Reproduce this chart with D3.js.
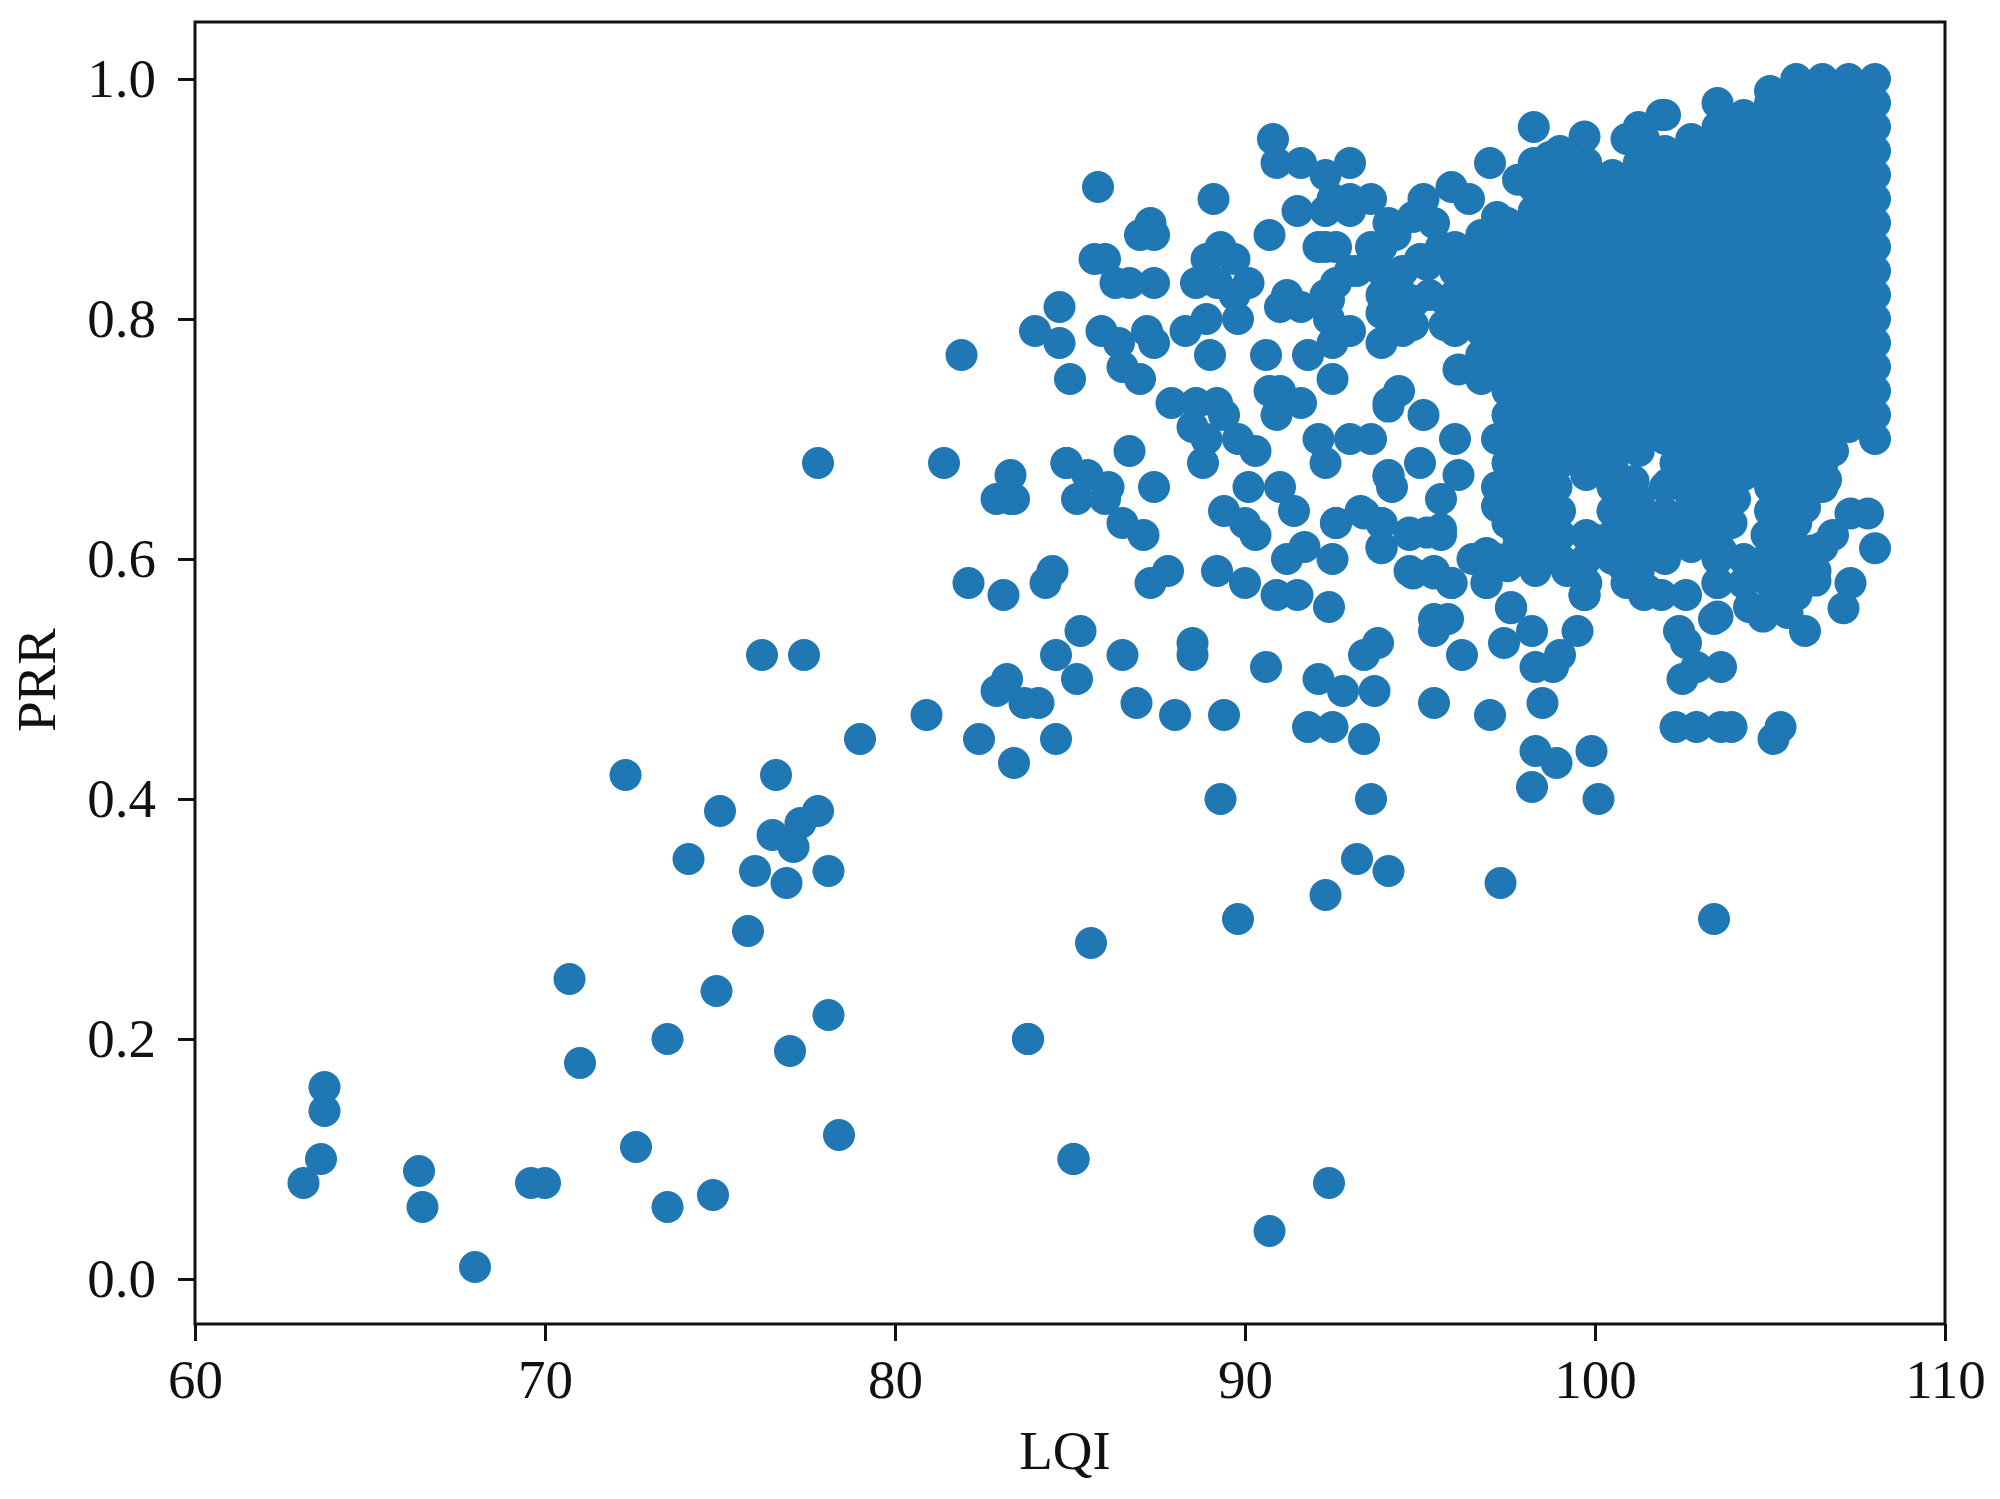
<!DOCTYPE html>
<html><head><meta charset="utf-8">
<script src="https://cdnjs.cloudflare.com/ajax/libs/d3/7.8.5/d3.min.js"></script>
<style>html,body{margin:0;background:#fff}svg{display:block;filter:blur(.6px)}text{font-family:"Liberation Serif",serif;fill:#111}</style>
</head><body><svg id="c" width="2000" height="1499"></svg>
<script>
const xTicks=[60,70,80,90,100,110];
const yTicks=[0,0.2,0.4,0.6,0.8,1.0];
const xLabel="LQI", yLabel="PRR";
// individually readable points
const lqi=[63.1,63.6,63.7,63.7,66.4,66.5,68.0,69.6,70.0,70.7,71.0,72.3,72.6,73.5,73.5,74.1,74.8,74.9,75.0,75.8,76.0,76.2,76.5,76.6,77.0,76.9,77.1,77.3,77.4,77.8,77.8,78.1,78.1,78.4,79.0,80.9,81.4,81.9,82.1,82.4,82.9,82.9,83.1,83.2,83.3,83.4,83.4,83.8,84.0,83.7,84.1,84.3,84.5,84.6,84.6,84.7,84.7,84.9,85.0,85.1,
85.8,85.7,86.0,89.1,90.8,90.9,91.6,93.0,92.3,87.3,87.0,87.4,90.7,93.6,93.0,91.5,92.3,93.0,89.3,88.9,89.7,92.1,92.6,93.6,94.1,94.3,86.3,86.7,87.4,88.6,89.2,90.1,89.7,91.2,91.0,91.6,92.3,92.6,93.0,85.9,86.4,87.2,87.4,88.3,88.9,89.8,89.0,90.6,91.8,92.5,93.0,93.9,86.5,87.0,90.7,91.0,91.6,90.9,92.5,87.9,88.6,89.2,89.4,88.5,88.9,89.8,90.3,88.8,92.1,93.0,93.6,92.3,94.1,94.4,86.7,87.4,86.1,85.5,84.9,85.2,86.0,86.5,87.1,83.3,90.1,91.0,89.4,90.0,90.3,91.4,91.7,91.2,92.6,92.5,93.3,93.9,93.9,94.1,87.8,87.3,89.2,90.0,90.9,91.5,92.4,
85.3,85.2,86.5,88.5,88.5,86.9,88.0,89.4,89.3,92.1,92.8,93.7,90.6,93.4,93.8,91.8,92.5,93.4,93.6,93.2,94.1,92.3,89.8,97.3,103.4,85.6,83.8,85.1,92.4,90.7,95.4,97.0,98.5,98.3,98.9,98.2,99.9,100.1,102.3,102.9,103.6,103.9,105.1,105.3,102.5,103.6,102.9,102.4,102.6,103.4,98.3,98.8,97.4,98.2,99.0,99.5,97.6,99.7,95.4,95.8,95.4,96.2,94.7,95.4,95.9,96.7,96.9,97.2,94.7,95.6,
95.1,95.9,96.4,97.0,97.8,97.2,98.7,99.7,100.9,101.4,101.9,93.2,92.4,92.3,93.9,92.5,92.4,94.8,95.7,95.27,96.1,95.1,94.1,96.0,97.2,94.1,94.2,95.0,96.1,95.6,95.6,94.7,95.2,92.6,93.4,93.9,93.9,94.8,95.4,95.9,96.5,96.9,97.6,97.2,97.2,97.5,96.9,97.8,97.5,98.5,99.2,99.7,100.0,
106.8,106.6,105.9,105.3,105.3,105.3,105.3,106.0,106.2,106.8,106.3,105.8,105.7,106.0,105.5,104.8,104.4,104.5,104.9,104.9,107.8,107.3,108.0,107.3,107.1,104.4,103.8,103.6,103.5,103.5,103.0,102.9,102.0,102.1,102.6,101.4,100.9,100.7,101.2,101.8,102.3,102.3,101.1,101.5,101.9,100.8,
101.25,102.0,102.0,102.75,102.75,102.75,103.5,103.5,103.5,103.5,103.5,104.25,104.0,103.9,104.25,104.25,105.0,105.0,105.0,105.0,105.0,105.75,105.75,105.75,105.75,106.5,106.5,106.3,100.5,100.5,
95.0,95.6,94.85,95.75,94.5,95.2,95.4,94.8,98.9,97.8,97.9,97.8,98.9,98.9,98.3];
const prr=[.08,.10,.14,.16,.09,.06,.01,.08,.08,.25,.18,.42,.11,.20,.06,.35,.07,.24,.39,.29,.34,.52,.37,.42,.19,.33,.36,.38,.52,.39,.68,.22,.34,.12,.45,.47,.68,.77,.58,.45,.65,.49,.57,.50,.67,.65,.43,.20,.79,.48,.48,.58,.59,.52,.45,.81,.78,.68,.75,.10,
.91,.85,.85,.90,.95,.93,.93,.93,.92,.88,.87,.87,.87,.90,.90,.89,.89,.89,.86,.85,.85,.86,.86,.86,.88,.87,.83,.83,.83,.83,.83,.83,.82,.82,.81,.81,.82,.83,.84,.79,.78,.79,.78,.79,.80,.80,.77,.77,.77,.78,.79,.78,.76,.75,.74,.74,.73,.72,.75,.73,.73,.73,.72,.71,.70,.70,.69,.68,.70,.70,.70,.68,.73,.74,.69,.66,.66,.67,.68,.65,.65,.63,.62,.65,.66,.66,.64,.63,.62,.64,.61,.60,.63,.60,.64,.63,.61,.67,.59,.58,.59,.58,.57,.57,.56,
.54,.50,.52,.53,.52,.48,.47,.47,.40,.50,.49,.49,.51,.52,.53,.46,.46,.45,.40,.35,.34,.32,.30,.33,.30,.28,.20,.10,.08,.04,.48,.47,.48,.44,.43,.41,.44,.40,.46,.46,.46,.46,.45,.46,.50,.51,.51,.54,.53,.55,.51,.51,.53,.54,.52,.54,.56,.57,.54,.55,.55,.52,.59,.59,.58,.60,.58,.60,.62,.62,
.90,.91,.90,.93,.916,.885,.935,.952,.95,.95,.97,.84,.816,.86,.86,.90,.80,.795,.795,.82,.758,.72,.727,.70,.70,.669,.66,.68,.67,.65,.625,.622,.622,.63,.638,.63,.609,.588,.588,.58,.60,.58,.559,.66,.644,.63,.605,.61,.594,.61,.59,.57,.616,
.69,.666,.677,.66,.643,.62,.593,.643,.607,.62,.582,.60,.58,.54,.555,.552,.56,.585,.60,.62,.638,.638,.609,.58,.559,.677,.65,.607,.58,.552,.63,.65,.638,.663,.57,.57,.58,.60,.62,.612,.63,.68,.665,.574,.57,.594,
.65,.62,.60,.65,.63,.61,.66,.64,.62,.60,.58,.67,.65,.63,.60,.58,.64,.62,.60,.58,.56,.63,.61,.59,.57,.61,.66,.59,.62,.60,
.85,.86,.815,.815,.79,.845,.88,.885,.66,.66,.64,.62,.62,.60,.59];
// solid mass, read column by column
const denseLqi=[108,107.25,106.5,105.75,105,104.25,103.5,102.75,102,101.25,100.5,99.75,99,98.25,97.5,96.75,96,95.25,94.5,93.9];
const densePrr=[
[1,.98,.96,.94,.92,.90,.88,.86,.84,.82,.80,.78,.76,.74,.72,.70],
[1,.99,.97,.95,.93,.91,.89,.87,.85,.83,.81,.79,.77,.75,.73,.71],
[1,.98,.96,.94,.92,.90,.88,.86,.84,.82,.80,.78,.76,.74,.72,.70,.68],
[1,.99,.97,.95,.93,.91,.89,.87,.85,.83,.81,.79,.77,.75,.73,.71,.69,.67,.65],
[.99,.98,.96,.94,.92,.90,.88,.86,.84,.82,.80,.78,.76,.74,.72,.70,.68,.66],
[.97,.95,.93,.91,.89,.87,.85,.83,.81,.79,.77,.75,.73,.71,.69],
[.98,.96,.94,.92,.90,.88,.86,.84,.82,.80,.78,.76,.74,.72,.70,.68],
[.95,.93,.91,.89,.87,.85,.83,.81,.79,.77,.75,.73,.71,.69,.67],
[.97,.94,.92,.90,.88,.86,.84,.82,.80,.78,.76,.74,.72,.70,.66],
[.96,.93,.91,.89,.87,.85,.83,.81,.79,.77,.75,.73,.71,.69,.63,.61,.59],
[.92,.90,.88,.86,.84,.82,.80,.78,.76,.74,.72,.70,.68,.66,.64],
[.93,.91,.89,.87,.85,.83,.81,.79,.77,.75,.73,.71,.69,.67,.62,.60,.58],
[.94,.92,.90,.88,.86,.84,.82,.80,.78,.76,.74,.72,.70,.68,.64,.62,.60],
[.96,.93,.91,.89,.87,.85,.83,.81,.79,.77,.75,.73,.71,.69,.67,.65,.63,.61],
[.88,.86,.84,.82,.80,.78,.76,.74,.72,.70,.68],
[.87,.85,.83,.81,.79,.77,.75],
[.86,.84,.82,.80,.79],
[.85],
[.84,.82,.80],
[.84,.82,.805]];

const W=2000,H=1499,L=195,R=1945,T=22,B=1324;
const x=d3.scaleLinear().domain([60,110]).range([L,R]);
const y=d3.scaleLinear().domain([-0.0375,1.0475]).range([B,T]);
const svg=d3.select("#c");
const pts=lqi.map((v,i)=>[v,prr[i]]);
denseLqi.forEach((v,i)=>densePrr[i].forEach(p=>pts.push([v,p])));
svg.append("g").selectAll("circle").data(pts).join("circle")
 .attr("cx",d=>x(d[0])).attr("cy",d=>y(d[1])).attr("r",16).attr("fill","#1f77b4");
svg.append("rect").attr("x",L).attr("y",T).attr("width",R-L).attr("height",B-T)
 .attr("fill","none").attr("stroke","#111").attr("stroke-width",3);
const gx=svg.append("g").attr("transform",`translate(0,${B})`)
 .call(d3.axisBottom(x).tickValues(xTicks).tickSize(17).tickPadding(18).tickFormat(d3.format("d")));
const gy=svg.append("g").attr("transform",`translate(${L},0)`)
 .call(d3.axisLeft(y).tickValues(yTicks).tickSize(17).tickPadding(22).tickFormat(d3.format(".1f")));
[gx,gy].forEach(g=>{g.select(".domain").remove();
 g.selectAll("line").attr("stroke","#111").attr("stroke-width",3);
 g.selectAll("text").attr("font-size",55).attr("fill","#111").style("font-family",'"Liberation Serif",serif');});
svg.append("text").attr("x",1065).attr("y",1469).attr("text-anchor","middle").attr("font-size",55).text(xLabel);
svg.append("text").attr("transform","translate(55,680) rotate(-90)").attr("text-anchor","middle").attr("font-size",55).text(yLabel);
</script></body></html>
